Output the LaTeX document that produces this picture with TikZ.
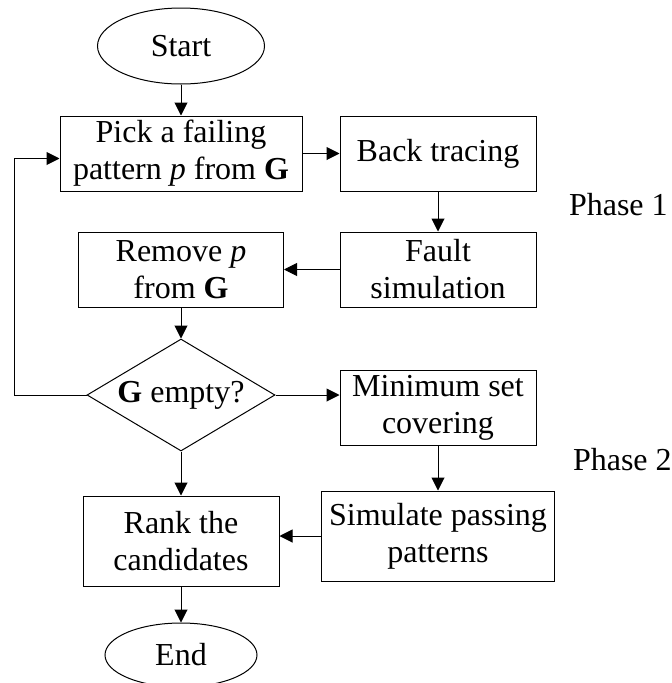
\documentclass[tikz,border=0pt]{standalone}
\usepackage{fontspec}
\setmainfont{Liberation Serif}
\usetikzlibrary{shapes.geometric, arrows.meta, positioning, calc}

\begin{document}
\begin{tikzpicture}[
    x=1pt, y=1pt,
    every node/.style={font=\fontsize{32}{37}\selectfont, line width=1pt},
    terminal/.style={draw, ellipse, minimum width=167pt, minimum height=76pt, inner sep=0pt},
    process/.style={draw, rectangle, minimum width=196pt, minimum height=75pt, inner sep=0pt, align=center},
    decision/.style={draw, diamond, aspect=1.68, minimum width=188pt, minimum height=112pt, inner sep=0pt},
    phase/.style={inner sep=0pt},
    arrow/.style={-{Triangle[length=13pt, width=13pt]}, line width=1pt}
]
\useasboundingbox (0,0) rectangle (672,-683);

% Left column
\node[terminal] (start) at (181,-46) {Start};
\node[process, minimum width=242pt, below=31pt of start] (pick) {Pick a failing\\pattern \textit{p} from \textbf{G}};
\node[process, minimum width=205pt, below=40pt of pick] (remove) {Remove \textit{p}\\from \textbf{G}};
\node[decision, below=31pt of remove] (empty) {\textbf{G} empty?};
\node[process, minimum height=90pt, below=44pt of empty] (rank) {Rank the\\candidates};
\node[terminal, minimum width=152pt, minimum height=64pt, below=36pt of rank] (end) {End};

% Right column
\node[process, right=37pt of pick] (back) {Back tracing};
\node[process, below=40pt of back] (fault) {Fault\\simulation};
\node[process, below=62pt of fault] (cover) {Minimum set\\covering};
\node[process, minimum width=233pt, minimum height=90pt, below=45pt of cover] (sim) {Simulate passing\\patterns};

% Arrows
\draw[arrow] (start) -- (pick);
\draw[arrow] (pick) -- (back);
\draw[arrow] (back) -- (fault);
\draw[arrow] (fault) -- (remove);
\draw[arrow] (remove) -- (empty);
\draw[arrow] (empty.east) -- (empty.east -| cover.west);
\draw[arrow] (cover) -- (sim);
\draw[arrow] (sim.west) -- (sim.west -| rank.east);
\draw[arrow] (empty) -- (rank);
\draw[arrow] (rank) -- (end);

% Loop back
\coordinate (loop) at ([xshift=-45pt, yshift=-5pt]pick.west);
\draw[arrow] (empty.west) -| (loop) -- (loop -| pick.west);

% Phase labels
\coordinate (gap1) at ($(back.south east)!0.5!(fault.north east)$);
\coordinate (gap2) at ($(cover.south east)!0.5!(cover.south east |- sim.north)$);
\node[phase, right=32pt of gap1, yshift=7pt] (phase1) {Phase 1};
\node[phase, right=36pt of gap2, yshift=8pt] (phase2) {Phase 2};

\end{tikzpicture}
\end{document}
